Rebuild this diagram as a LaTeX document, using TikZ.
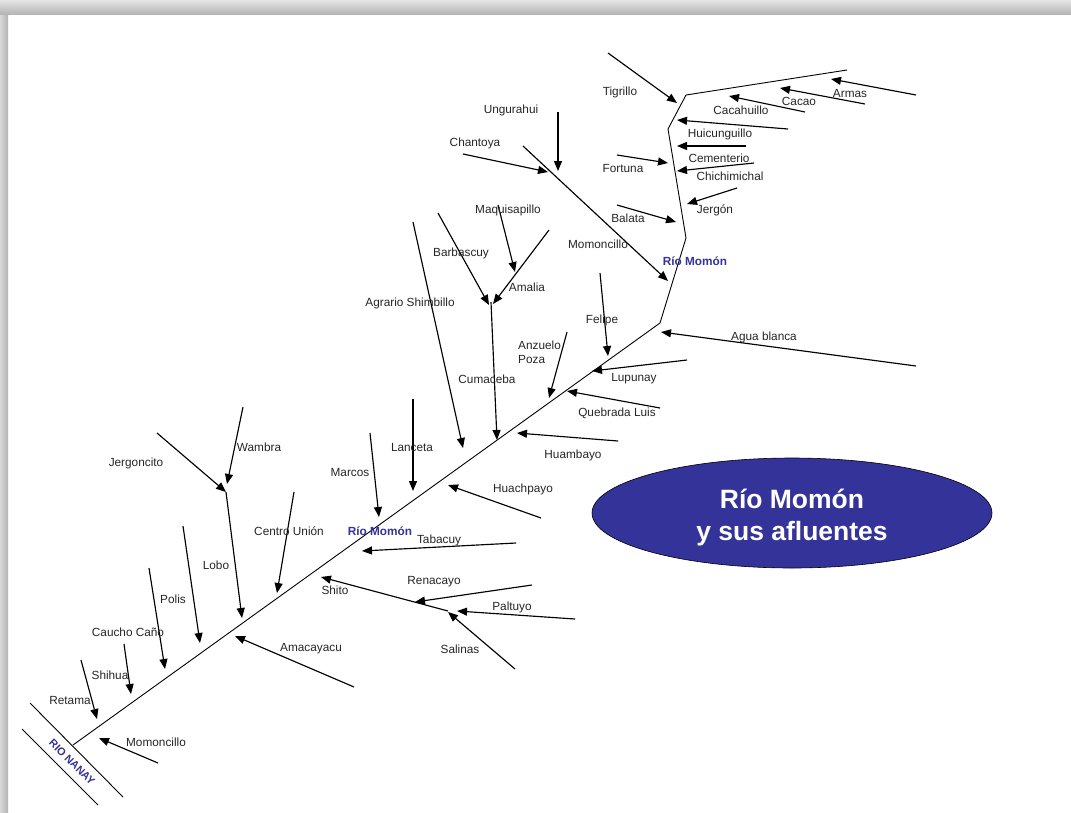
\documentclass[tikz,border=0pt]{standalone}
\usepackage{fontspec}
\setmainfont{Liberation Sans}
\usetikzlibrary{arrows.meta,shapes.geometric}
\definecolor{momon}{RGB}{51,51,153}
\newcommand\trib[3]{\coordinate (#1-s) at (#2); \coordinate (#1-e) at (#3); \draw[trib] (#1-s) -- (#1-e);}
\begin{document}
\begin{tikzpicture}[x=1pt,y=-1pt,
  trib/.style={line width=1.15pt,-{Triangle[length=10pt,width=8pt]}},
  river/.style={line width=0.9pt},
  lbl/.style={font=\fontsize{11.8}{14}\selectfont, text=black!85, inner sep=0pt},
  rlbl/.style={font=\bfseries\fontsize{11.8}{14}\selectfont, text=momon, inner sep=0pt},
  titlebox/.style={ellipse, draw=black, line width=0.6pt, fill=momon, minimum width=400pt, minimum height=110pt, inner sep=0pt},
  titletext/.style={text=white, align=center, inner sep=0pt, font=\bfseries\fontsize{26.5}{32}\selectfont}
]
\useasboundingbox (0,0) rectangle (1071,812);
\fill[white] (0,0) rectangle (1071,812);
\shade[left color=gray!30, right color=gray!60] (0,0) rectangle (8,812);
\shade[top color=gray!20, bottom color=gray!58] (0,0) rectangle (1071,14);

% Rio Nanay
\coordinate (n1a) at (30,703); \coordinate (n1b) at (123,797);
\coordinate (n2a) at (22,729); \coordinate (n2b) at (98,805);
\draw[river] (n1a) -- (n1b);
\draw[river] (n2a) -- (n2b);
\node[font=\bfseries\fontsize{10.8}{12}\selectfont, text=momon, rotate=-45, inner sep=0pt] (nanay) at (72,762) {RIO NANAY};

% Rio Momon main course
\coordinate (m0) at (73,745);
\coordinate (m1) at (660,323);
\coordinate (m2) at (686,238);
\coordinate (m3) at (668,129);
\coordinate (m4) at (686,95);
\coordinate (m5) at (847,70);
\draw[river] (m0) -- (m1) -- (m2) -- (m3) -- (m4) -- (m5);

% tributaries
\trib{retama}{81,660}{97,719}
\trib{shihua}{124,644}{131,694}
\trib{polis}{149,568}{165,669}
\trib{lobo2}{183,526}{200,643}
\trib{jergoncito}{157,433}{226,492}
\trib{wambra}{243,407}{227,484}
\trib{lobo}{226,492}{242,618}
\trib{centro}{294,492}{277,593}
\trib{amacayacu}{354,687}{235,636}
\trib{momoncilloB}{158,763}{99,738}
\trib{salinas}{515,669}{448,612}
\trib{paltuyo}{575,619}{457,611}
\trib{renacayo}{532,585}{415,602}
\trib{shito}{448,611}{321,577}
\trib{tabacuy}{516,543}{362,551}
\trib{huachpayo}{541,518}{448,485}
\trib{marcos}{370,433}{379,517}
\trib{lanceta}{413,399}{413,491}
\trib{agrario}{413,222}{463,448}
\trib{barbascuy}{438,213}{489,305}
\trib{amalia}{549,230}{493,304}
\trib{maquisapillo}{498,205}{515,272}
\trib{cumaceba}{491,302}{497,440}
\trib{huambayo}{618,441}{517,433}
\trib{anzuelo}{567,332}{549,398}
\trib{quebrada}{660,408}{567,391}
\trib{felipe}{600,273}{608,356}
\trib{lupunay}{687,360}{592,371}
\trib{agua}{916,366}{661,332}
\trib{momoncilloA}{523,146}{668,281}
\trib{chantoya}{463,154}{548,172}
\trib{ungurahui}{558,112}{558,171}
\trib{tigrillo}{608,53}{677,103}
\trib{armas}{916,95}{831,79}
\trib{cacao}{865,104}{780,88}
\trib{cacahuillo}{805,112}{729,96}
\trib{huicunguillo}{788,129}{677,120}
\trib{cementerio}{746,146}{677,146}
\trib{chichimichal}{754,163}{677,171}
\trib{fortuna}{617,155}{668,163}
\trib{jergon}{737,188}{687,204}
\trib{balata}{617,205}{676,222}

% labels
\node[lbl] (l-tigrillo) at (620,92) {Tigrillo};
\node[lbl] (l-armas) at (850,93) {Armas};
\node[lbl] (l-cacao) at (799,101) {Cacao};
\node[lbl] (l-cacahuillo) at (741,110) {Cacahuillo};
\node[lbl] (l-huicunguillo) at (720,134) {Huicunguillo};
\node[lbl] (l-cementerio) at (719,158) {Cementerio};
\node[lbl] (l-chichimichal) at (730,176) {Chichimichal};
\node[lbl] (l-fortuna) at (623,168) {Fortuna};
\node[lbl] (l-jergon) at (715,210) {Jergón};
\node[lbl] (l-balata) at (628,218) {Balata};
\node[lbl] (l-ungurahui) at (511,110) {Ungurahui};
\node[lbl] (l-chantoya) at (475,143) {Chantoya};
\node[lbl] (l-maquisapillo) at (508,210) {Maquisapillo};
\node[lbl] (l-barbascuy) at (461,253) {Barbascuy};
\node[lbl] (l-amalia) at (527,287) {Amalia};
\node[lbl] (l-momoncilloA) at (598,244) {Momoncillo};
\node[rlbl] (l-momonA) at (695,261) {Río Momón};
\node[lbl] (l-agrario) at (410,303) {Agrario Shimbillo};
\node[lbl] (l-felipe) at (602,320) {Felipe};
\node[lbl] (l-agua) at (764,337) {Agua blanca};
\node[lbl, align=left, anchor=west] (l-anzuelo) at (518,352) {Anzuelo\\Poza};
\node[lbl] (l-cumaceba) at (487,379) {Cumaceba};
\node[lbl] (l-lupunay) at (634,379) {Lupunay};
\node[lbl] (l-quebrada) at (617,413) {Quebrada Luis};
\node[lbl] (l-lanceta) at (412,447) {Lanceta};
\node[lbl] (l-huambayo) at (573,455) {Huambayo};
\node[lbl] (l-marcos) at (350,472) {Marcos};
\node[lbl] (l-wambra) at (259,447) {Wambra};
\node[lbl] (l-jergoncito) at (136,463) {Jergoncito};
\node[lbl] (l-huachpayo) at (523,489) {Huachpayo};
\node[lbl] (l-centro) at (289,531) {Centro Unión};
\node[rlbl] (l-momonB) at (380,531) {Río Momón};
\node[lbl] (l-tabacuy) at (439,540) {Tabacuy};
\node[lbl] (l-lobo) at (216,565) {Lobo};
\node[lbl] (l-renacayo) at (434,582) {Renacayo};
\node[lbl] (l-shito) at (335,590) {Shito};
\node[lbl] (l-polis) at (173,599) {Polis};
\node[lbl] (l-paltuyo) at (512,607) {Paltuyo};
\node[lbl] (l-caucho) at (128,632) {Caucho Caño};
\node[lbl] (l-amacayacu) at (311,649) {Amacayacu};
\node[lbl] (l-salinas) at (460,649) {Salinas};
\node[lbl] (l-shihua) at (110,675) {Shihua};
\node[lbl] (l-retama) at (70,700) {Retama};
\node[lbl] (l-momoncilloB) at (156,742) {Momoncillo};

% title
\node[titlebox] (title) at (792,513) {};
\node[titletext] (title-text) at (792,518) {Río Momón\\y sus afluentes};
\end{tikzpicture}
\end{document}
